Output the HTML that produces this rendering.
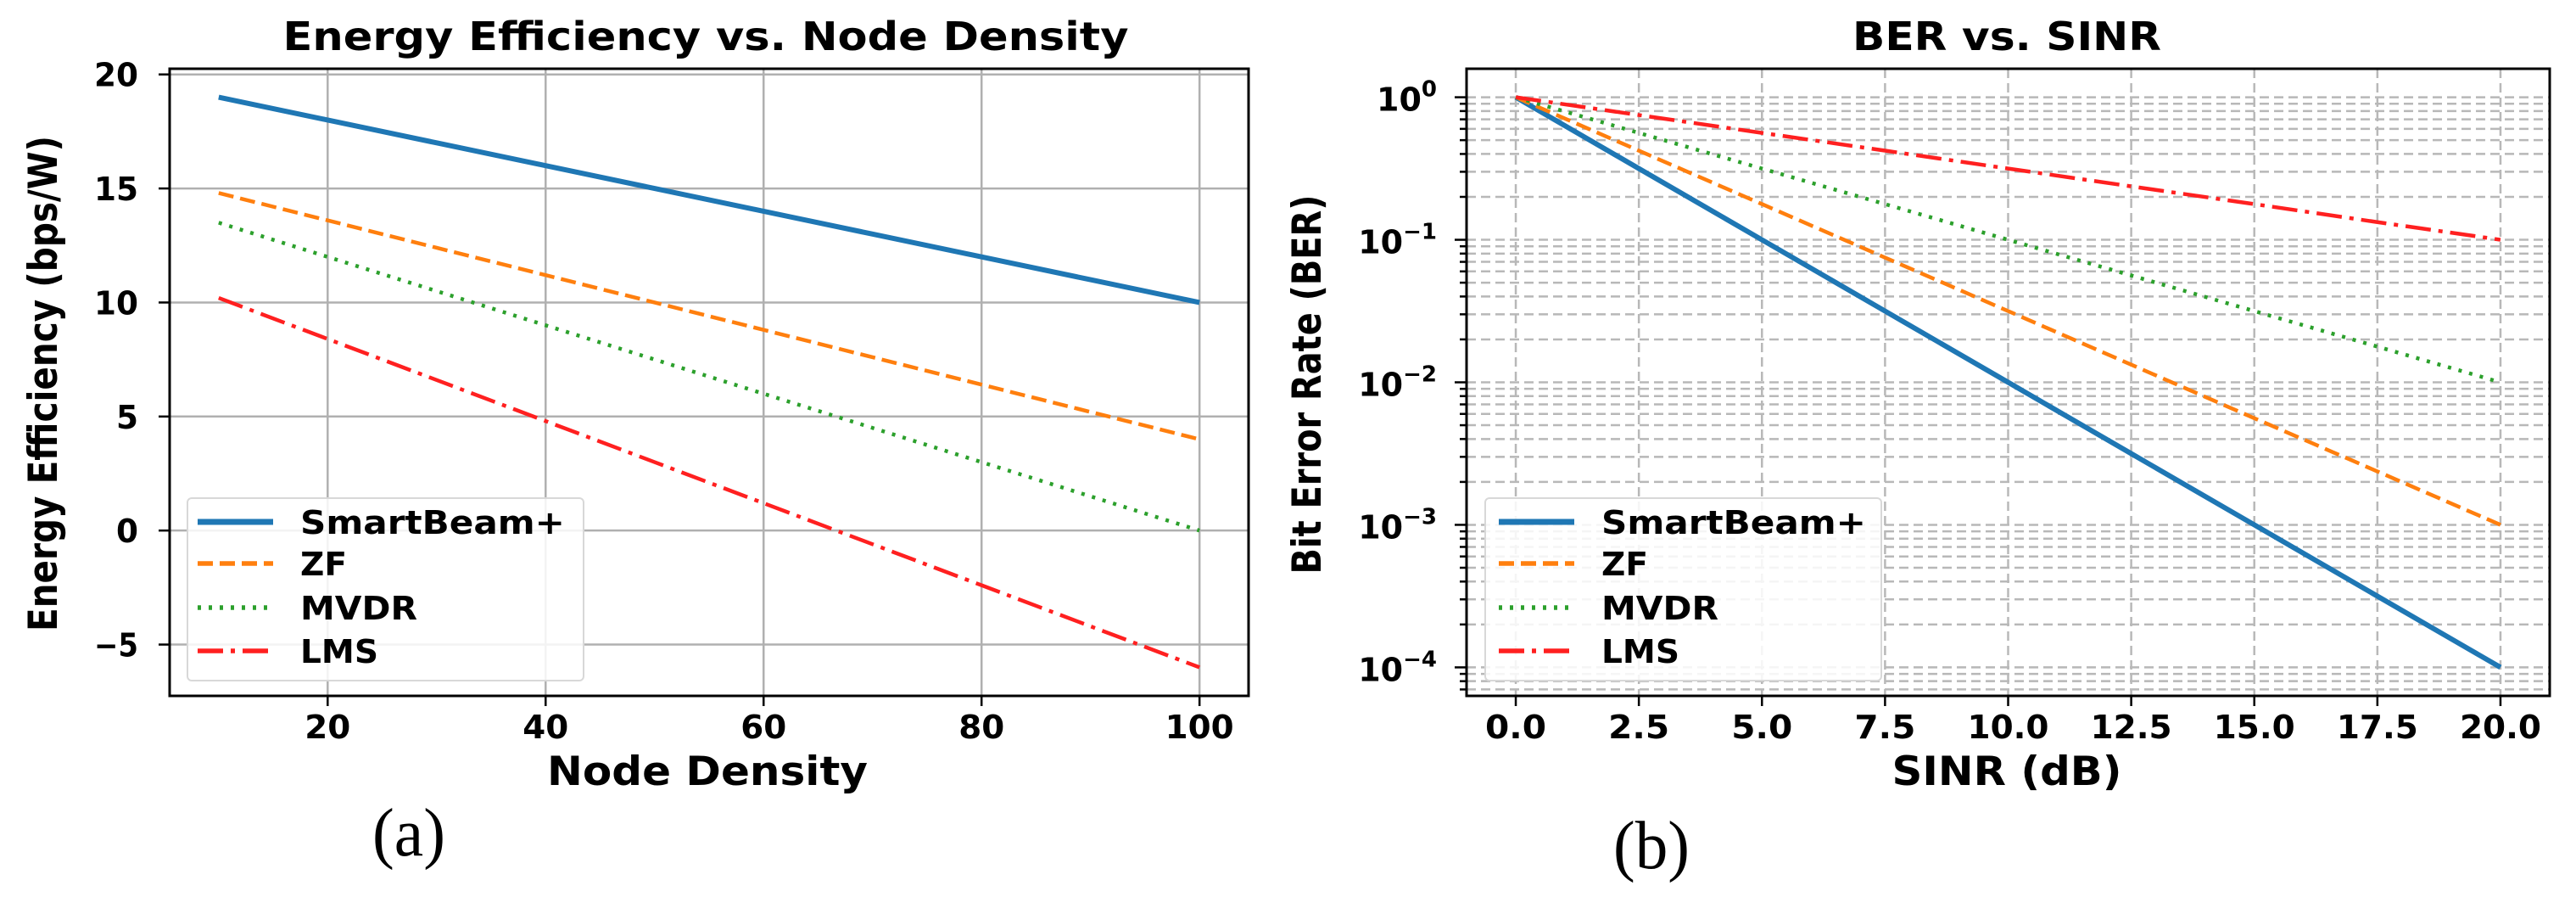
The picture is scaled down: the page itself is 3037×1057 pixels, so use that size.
<!DOCTYPE html>
<html><head><meta charset="utf-8"><style>
html,body{margin:0;padding:0;background:#fff;overflow:hidden;}
svg{display:block;}
text{font-family:"DejaVu Sans","Liberation Sans",sans-serif;font-weight:bold;fill:#000;}
.cap{font-family:"Liberation Serif",serif;font-weight:normal;}
</style></head><body>
<svg id="fig" width="3037" height="1057" viewBox="0 0 3037 1057" xmlns="http://www.w3.org/2000/svg">
<g id="pa"></g>
<g id="pb"></g>
<text class="cap" x="482" y="1008" font-size="80" text-anchor="middle" textLength="86" lengthAdjust="spacingAndGlyphs">(a)</text>
<text class="cap" x="1947" y="1023" font-size="80" text-anchor="middle" textLength="90" lengthAdjust="spacingAndGlyphs">(b)</text>
</svg>
<script>
const seriesNames=["SmartBeam+","ZF","MVDR","LMS"];
const densityX=[10,20,30,40,50,60,70,80,90,100];
const eeSmart=[19,18,17,16,15,14,13,12,11,10];
const eeZF=[14.8,13.6,12.4,11.2,10,8.8,7.6,6.4,5.2,4];
const eeMVDR=[13.5,12,10.5,9,7.5,6,4.5,3,1.5,0];
const eeLMS=[10.2,8.4,6.6,4.8,3,1.2,-0.6,-2.4,-4.2,-6];
const eeXTicks=[20,40,60,80,100];
const eeYTicks=[-5,0,5,10,15,20];
const sinrX=[0,2.5,5,7.5,10,12.5,15,17.5,20];
const berSmart=[1,0.316,0.1,0.0316,0.01,0.00316,0.001,0.000316,0.0001];
const berZF=[1,0.422,0.178,0.075,0.0316,0.0133,0.0056,0.00237,0.001];
const berMVDR=[1,0.562,0.316,0.178,0.1,0.0562,0.0316,0.0178,0.01];
const berLMS=[1,0.75,0.562,0.422,0.316,0.237,0.178,0.133,0.1];
const berXTicks=["0.0","2.5","5.0","7.5","10.0","12.5","15.0","17.5","20.0"];
const berYExp=[0,-1,-2,-3,-4];

const NS="http://www.w3.org/2000/svg";
const colors=["#1f77b4","#ff7f0e","#2ca02c","#ff2020"];
const widths=[6,4.5,4.5,4.5];
const dashes=["","18,8","4,9","30,9,5,9"];
const TOP=81,BOT=820;
function mk(p,tag,a,txt){const e=document.createElementNS(NS,tag);for(const k in a)e.setAttribute(k,a[k]);if(txt!==undefined)e.textContent=txt;p.appendChild(e);return e;}

// ---- Chart A ----
const A=document.getElementById('pa');
const aL=200,aR=1472,aT=TOP,aB=BOT,ax0=5.5,ax1=104.5,ay0=-7.25,ay1=20.25;
const axf=v=>aL+(v-ax0)/(ax1-ax0)*(aR-aL);
const ayf=v=>aB-(v-ay0)/(ay1-ay0)*(aB-aT);
eeXTicks.forEach(t=>{
 let g=mk(A,'line',{x1:axf(t),x2:axf(t),y1:aT,y2:aB,stroke:'#b0b0b0','stroke-width':2.5});
 
 mk(A,'line',{x1:axf(t),x2:axf(t),y1:aB,y2:aB+12,stroke:'#000','stroke-width':2.5});
 let l=mk(A,'text',{x:axf(t),y:870,'font-size':38,'text-anchor':'middle',textLength:String(t).length*27,lengthAdjust:'spacingAndGlyphs'},String(t));
 
});
eeYTicks.forEach(t=>{
 let g=mk(A,'line',{x1:aL,x2:aR,y1:ayf(t),y2:ayf(t),stroke:'#b0b0b0','stroke-width':2.5});
 
 mk(A,'line',{x1:aL-13,x2:aL,y1:ayf(t),y2:ayf(t),stroke:'#000','stroke-width':2.5});
 const s=t<0?"\u22125":String(t);
 let l=mk(A,'text',{x:163,y:ayf(t)+14,'font-size':38,'text-anchor':'end',textLength:s.length*26,lengthAdjust:'spacingAndGlyphs'},s);
 
});
[eeSmart,eeZF,eeMVDR,eeLMS].forEach((arr,i)=>{
 const pts=arr.map((v,j)=>axf(densityX[j])+','+ayf(v)).join(' ');
 let p=mk(A,'polyline',{points:pts,fill:'none',stroke:colors[i],'stroke-width':widths[i],'stroke-dasharray':dashes[i]});
 
 
});
mk(A,'rect',{x:aL,y:aT,width:aR-aL,height:aB-aT,fill:'none',stroke:'#000','stroke-width':3});
let at=mk(A,'text',{x:832,y:59,'font-size':46,'text-anchor':'middle',textLength:997,lengthAdjust:'spacingAndGlyphs'},'Energy Efficiency vs. Node Density');

let axl=mk(A,'text',{x:834,y:925,'font-size':47,'text-anchor':'middle',textLength:378,lengthAdjust:'spacingAndGlyphs'},'Node Density');

let ayl=mk(A,'text',{x:0,y:0,'font-size':47,'text-anchor':'middle',textLength:584,lengthAdjust:'spacingAndGlyphs',transform:'translate(67,452) rotate(-90)'},'Energy Efficiency (bps/W)');


function legend(P,x,lx,tx){
 const ys=[615,664,716,767];
 let g=mk(P,'g',{});
 
 mk(g,'rect',{x:x,y:587,width:467,height:215,rx:5,fill:'#fff','fill-opacity':0.85,stroke:'#d8d8d8','stroke-width':2});
 seriesNames.forEach((n,i)=>{
  let e=mk(g,'g',{});
  
  mk(e,'line',{x1:lx,x2:lx+89,y1:ys[i],y2:ys[i],stroke:colors[i],'stroke-width':widths[i]+1,'stroke-dasharray':dashes[i]});
  mk(e,'text',{x:tx,y:ys[i]+14,'font-size':38,textLength:[312,55,138,92][i],lengthAdjust:'spacingAndGlyphs'},n);
 });
}
legend(A,221,233,354);

// ---- Chart B ----
const B=document.getElementById('pb');
const bL=1729,bR=3006,bT=TOP,bB=BOT,bx0=-1,bx1=21,by0=-4.2,by1=0.2;
const bxf=v=>bL+(v-bx0)/(bx1-bx0)*(bR-bL);
const byf=v=>bB-(Math.log10(v)-by0)/(by1-by0)*(bB-bT);
const byfe=e=>bB-(e-by0)/(by1-by0)*(bB-bT);
for(let e=-5;e<=0;e++){for(let m=1;m<10;m++){
 const v=m*Math.pow(10,e);const y=byf(v);
 if(y<bT||y>bB)continue;
 let g=mk(B,'line',{x1:bL,x2:bR,y1:y,y2:y,stroke:'#b8b8b8','stroke-width':2.5,'stroke-dasharray':'11,6'});
 
 mk(B,'line',{x1:bL-(m===1?14:8),x2:bL,y1:y,y2:y,stroke:'#000','stroke-width':2.5});
}}
berXTicks.forEach(t=>{
 const x=bxf(parseFloat(t));
 let g=mk(B,'line',{x1:x,x2:x,y1:bT,y2:bB,stroke:'#b8b8b8','stroke-width':2.5,'stroke-dasharray':'11,6'});
 
 mk(B,'line',{x1:x,x2:x,y1:bB,y2:bB+12,stroke:'#000','stroke-width':2.5});
 let l=mk(B,'text',{x:x,y:870,'font-size':38,'text-anchor':'middle',textLength:t.length*24,lengthAdjust:'spacingAndGlyphs'},t);
 
});
berYExp.forEach(e=>{
 const y=byfe(e);
 let l=mk(B,'text',{x:1694,y:y+16,'font-size':38,'text-anchor':'end'});
 
 mk(l,'tspan',{},'10');
 mk(l,'tspan',{'font-size':26,dy:-17},e===0?'0':'\u2212'+(-e));
});
[berSmart,berZF,berMVDR,berLMS].forEach((arr,i)=>{
 const pts=arr.map((v,j)=>bxf(sinrX[j])+','+byf(v)).join(' ');
 let p=mk(B,'polyline',{points:pts,fill:'none',stroke:colors[i],'stroke-width':widths[i],'stroke-dasharray':dashes[i]});
 
 
});
mk(B,'rect',{x:bL,y:bT,width:bR-bL,height:bB-bT,fill:'none',stroke:'#000','stroke-width':3});
let bt=mk(B,'text',{x:2366,y:59,'font-size':46,'text-anchor':'middle',textLength:364,lengthAdjust:'spacingAndGlyphs'},'BER vs. SINR');

let bxl=mk(B,'text',{x:2366,y:925,'font-size':47,'text-anchor':'middle',textLength:271,lengthAdjust:'spacingAndGlyphs'},'SINR (dB)');

let byl=mk(B,'text',{x:0,y:0,'font-size':47,'text-anchor':'middle',textLength:447,lengthAdjust:'spacingAndGlyphs',transform:'translate(1557,453) rotate(-90)'},'Bit Error Rate (BER)');

legend(B,1751,1767,1888);
</script>
</body></html>
